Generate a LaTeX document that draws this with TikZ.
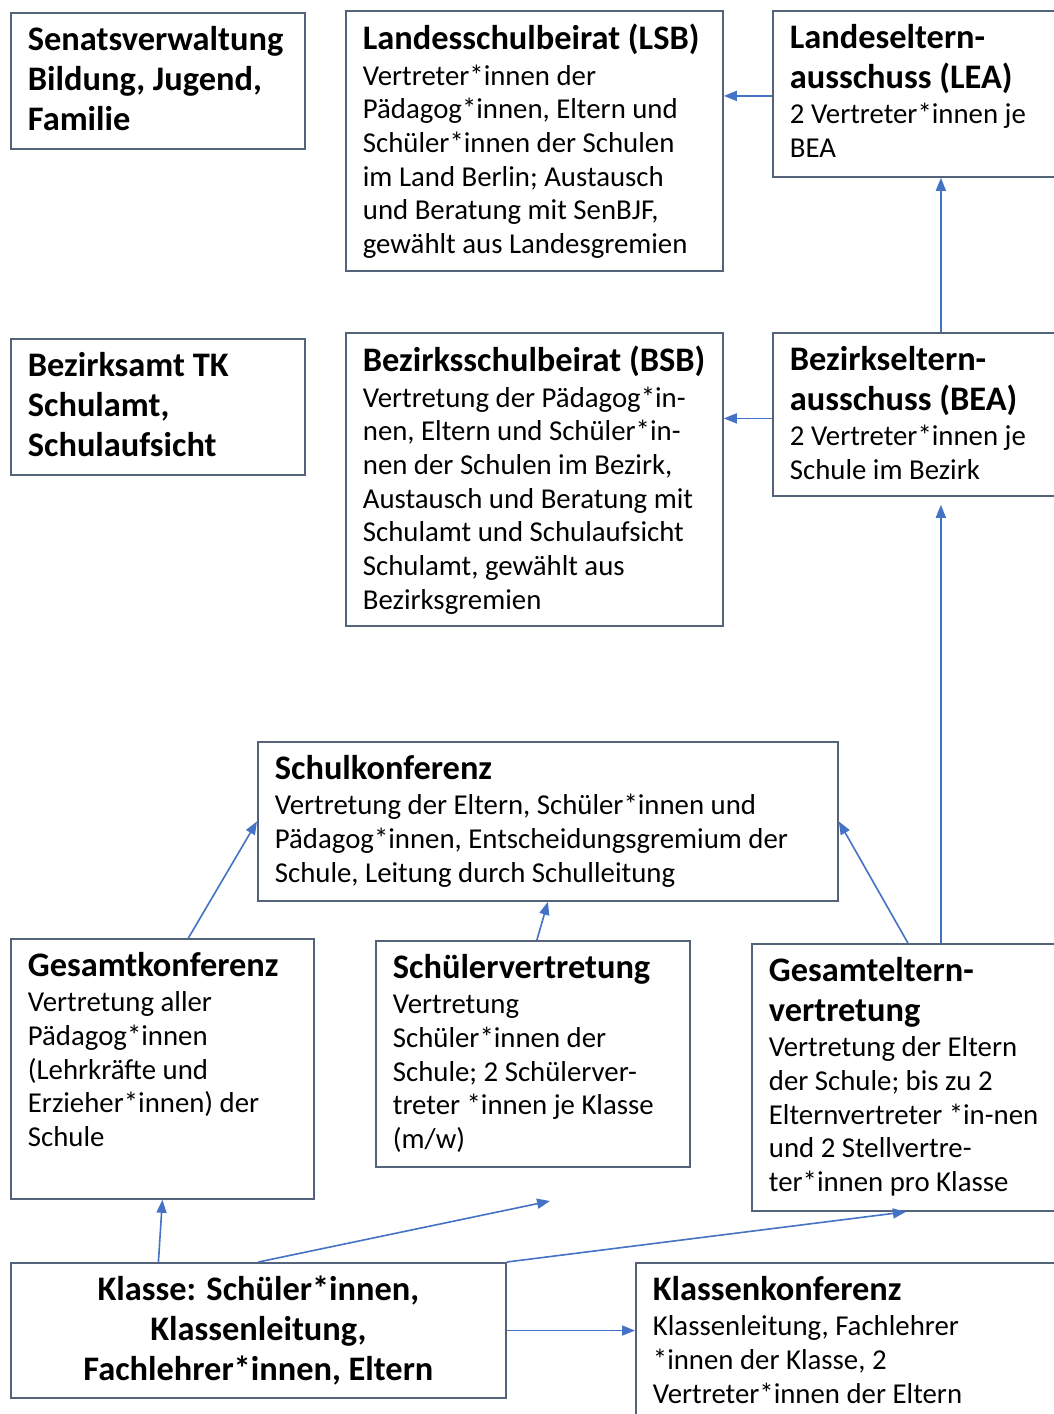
\documentclass[tikz,border=0pt]{standalone}
\usepackage{fontspec}
\setmainfont{Carlito}
\usepackage{xcolor}
\usetikzlibrary{arrows.meta, positioning}
\definecolor{rahmen}{RGB}{84,98,122}
\definecolor{pfeilblau}{RGB}{68,114,196}
\newcommand{\titelfont}{\bfseries\fontsize{17.2pt}{20pt}\selectfont}
\newcommand{\inhaltfont}{\fontsize{14.4pt}{16.85pt}\selectfont}
% Text eines Kastens: Breite, Hoehe, Titel, Inhalt
\newcommand{\gremtext}[4]{%
  \parbox[t][#2][t]{#1}{\raggedright\rightskip=-8pt plus 1fil\parskip=0pt
    {\titelfont #3\par}\vspace{1pt}\inhaltfont #4}}
\tikzset{
  % Kasten fuer ein Gremium
  gremium/.style={
    draw=rahmen, line width=0.9pt, fill=white,
    anchor=north west, inner xsep=8.5pt, inner ysep=6.5pt
  },
  % Pfeil zwischen den Gremien
  parr/.style={
    -{Triangle[length=6.5pt, width=5pt]}, draw=pfeilblau, line width=0.8pt
  },
}

\begin{document}
\begin{tikzpicture}[x=0.5pt, y=-0.5pt]
  \path[use as bounding box, fill=white] (0,0) rectangle (1054,1414);
  \clip (0,0) rectangle (1054,1414);

  % Landesebene
  \node (senat) [gremium] at (10,12)
        {\gremtext{130pt}{55pt}{Senatsverwaltung\\Bildung, Jugend,\\Familie}{}};
  \node (lsb) [gremium] at (345,10)
        {\gremtext{171.5pt}{117pt}{Landesschulbeirat (LSB)}
        {Vertreter*innen der\\Pädagog*innen, Eltern und\\Schüler*innen der Schulen\\im Land Berlin; Austausch\\und Beratung mit SenBJF,\\gewählt aus Landesgremien}};
  \node (lea) [gremium] at (772,10)
        {\gremtext{151pt}{70pt}{Landeseltern-\\ausschuss (LEA)}
        {2 Vertreter*innen je\\BEA}};

  % Bezirksebene
  \node (bezamt) [gremium] at (10,338)
        {\gremtext{130pt}{55pt}{Bezirksamt TK\\Schulamt,\\Schulaufsicht}{}};
  \node (bsb) [gremium] at (345,332)
        {\gremtext{171.5pt}{133.5pt}{Bezirksschulbeirat (BSB)}
        {Vertretung der Pädagog*in-\\nen, Eltern und Schüler*in-\\nen der Schulen im Bezirk,\\Austausch und Beratung mit\\Schulamt und Schulaufsicht\\Schulamt, gewählt aus\\Bezirksgremien}};
  \node (bea) [gremium] at (772,332)
        {\gremtext{151pt}{68.5pt}{Bezirkseltern-\\ausschuss (BEA)}
        {2 Vertreter*innen je\\Schule im Bezirk}};

  % Schulebene
  \node (skonf) [gremium] at (257,741)
        {\gremtext{273pt}{66.5pt}{Schulkonferenz}
        {Vertretung der Eltern, Schüler*innen und\\Pädagog*innen, Entscheidungsgremium der\\Schule, Leitung durch Schulleitung}};
  \node (gkonf) [gremium] at (10,938)
        {\gremtext{134.5pt}{117pt}{Gesamtkonferenz}
        {Vertretung aller\\Pädagog*innen\\(Lehrkräfte und\\Erzieher*innen) der\\Schule}};
  \node (sv) [gremium] at (375,940)
        {\gremtext{140pt}{100pt}{Schülervertretung}
        {Vertretung\\Schüler*innen der\\Schule; 2 Schülerver-\\treter *innen je Klasse\\(m/w)}};
  \node (gev) [gremium] at (751,943)
        {\gremtext{172pt}{120.5pt}{Gesamteltern-\\vertretung}
        {Vertretung der Eltern\\der Schule; bis zu 2\\Elternvertreter *in-nen\\und 2 Stellvertre-\\ter*innen pro Klasse}};

  % Klassenebene
  \node (klasse) [gremium
                 , minimum width=247.5pt
                 , minimum height=67pt
                 , align=center
                 , font=\titelfont
                 ] at (10,1262)
        {Klasse: Schüler*innen,\\Klassenleitung,\\Fachlehrer*innen, Eltern};
  \node (kkonf) [gremium] at (635,1262)
        {\gremtext{225.5pt}{87pt}{Klassenkonferenz}
        {Klassenleitung, Fachlehrer\\{}*innen der Klasse, 2\\Vertreter*innen der Eltern}};
  \coordinate (svpfeil) at (550,1201);

  \draw[parr] ([yshift=-1pt]lea.west) -- ([yshift=-1pt]lsb.east |- lea.west);
  \draw[parr] ([yshift=-2pt]bea.west) -- ([yshift=-2pt]bsb.east |- bea.west);
  \draw[parr] (bea.north) -- (lea.south);
  \draw[parr, shorten >=4pt] (gev.north) -- (bea.south);
  \draw[parr] ([xshift=13pt]gkonf.north) -- (skonf.west);
  \draw[parr] ([xshift=2pt]sv.north) -- (skonf.south);
  \draw[parr] ([xshift=-16.5pt]gev.north) -- (skonf.east);
  \draw[parr] ([xshift=-50pt]klasse.north) -- (gkonf.south);
  \draw[parr] (klasse.north) -- (svpfeil);
  \draw[parr] (klasse.north east) -- ([xshift=-17.5pt]gev.south);
  \draw[parr] (klasse.east) -- (kkonf.west |- klasse.east);
\end{tikzpicture}
\end{document}
